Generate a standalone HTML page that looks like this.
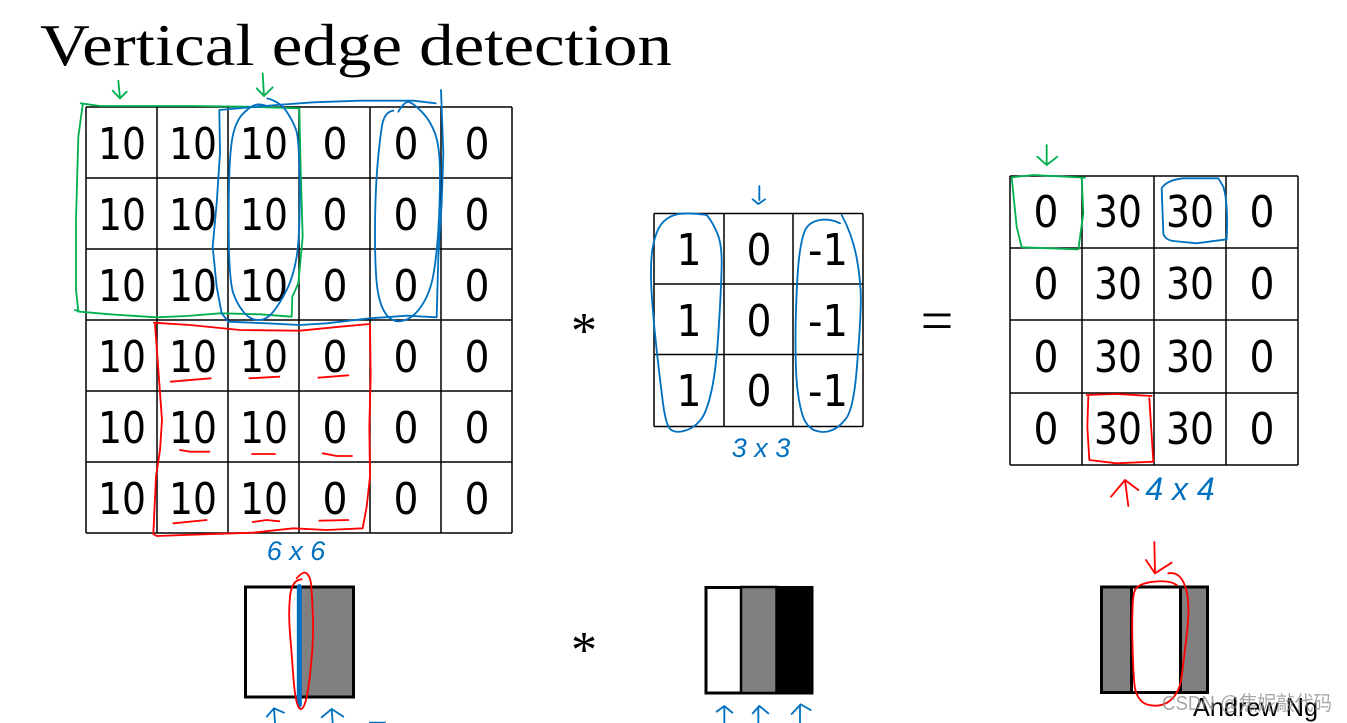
<!DOCTYPE html>
<html>
<head>
<meta charset="utf-8">
<style>
html,body{margin:0;padding:0;background:#fff;width:1347px;height:723px;overflow:hidden}
svg{display:block}
.n{font-family:"DejaVu Sans",sans-serif;font-size:44px;fill:#000;text-anchor:middle}
.z polyline,.z path{fill:none;stroke-width:5.5;stroke-linejoin:round;stroke-linecap:round}
.b polyline,.b path{stroke:#0070c0}.g polyline{stroke:#00b050}.r polyline,.r path{stroke:#f00}
.h{font-family:"Liberation Sans",sans-serif;font-style:italic;fill:#0070c0;font-size:27px;text-anchor:middle}
</style>
</head>
<body>
<svg width="1347" height="723" viewBox="0 0 1347 723" xmlns="http://www.w3.org/2000/svg">
<rect width="1347" height="723" fill="#fff"/>
<text x="40" y="65" font-family="'Liberation Serif',serif" font-size="59" textLength="632" lengthAdjust="spacingAndGlyphs">Vertical edge detection</text>

<!-- main grid -->
<path d="M86 107V533M157 107V533M228 107V533M299 107V533M370 107V533M441 107V533M512 107V533M86 107H512M86 178H512M86 249H512M86 320H512M86 391H512M86 462H512M86 533H512" stroke="#000" stroke-width="1.5" fill="none"/>
<g class="n">
<text class="n" x="122" y="159" textLength="48" lengthAdjust="spacingAndGlyphs">10</text><text class="n" x="193" y="159" textLength="48" lengthAdjust="spacingAndGlyphs">10</text><text class="n" x="264" y="159" textLength="48" lengthAdjust="spacingAndGlyphs">10</text><text class="n" x="335" y="159" textLength="25" lengthAdjust="spacingAndGlyphs">0</text><text class="n" x="406" y="159" textLength="25" lengthAdjust="spacingAndGlyphs">0</text><text class="n" x="477" y="159" textLength="25" lengthAdjust="spacingAndGlyphs">0</text>
<text class="n" x="122" y="230" textLength="48" lengthAdjust="spacingAndGlyphs">10</text><text class="n" x="193" y="230" textLength="48" lengthAdjust="spacingAndGlyphs">10</text><text class="n" x="264" y="230" textLength="48" lengthAdjust="spacingAndGlyphs">10</text><text class="n" x="335" y="230" textLength="25" lengthAdjust="spacingAndGlyphs">0</text><text class="n" x="406" y="230" textLength="25" lengthAdjust="spacingAndGlyphs">0</text><text class="n" x="477" y="230" textLength="25" lengthAdjust="spacingAndGlyphs">0</text>
<text class="n" x="122" y="301" textLength="48" lengthAdjust="spacingAndGlyphs">10</text><text class="n" x="193" y="301" textLength="48" lengthAdjust="spacingAndGlyphs">10</text><text class="n" x="264" y="301" textLength="48" lengthAdjust="spacingAndGlyphs">10</text><text class="n" x="335" y="301" textLength="25" lengthAdjust="spacingAndGlyphs">0</text><text class="n" x="406" y="301" textLength="25" lengthAdjust="spacingAndGlyphs">0</text><text class="n" x="477" y="301" textLength="25" lengthAdjust="spacingAndGlyphs">0</text>
<text class="n" x="122" y="372" textLength="48" lengthAdjust="spacingAndGlyphs">10</text><text class="n" x="193" y="372" textLength="48" lengthAdjust="spacingAndGlyphs">10</text><text class="n" x="264" y="372" textLength="48" lengthAdjust="spacingAndGlyphs">10</text><text class="n" x="335" y="372" textLength="25" lengthAdjust="spacingAndGlyphs">0</text><text class="n" x="406" y="372" textLength="25" lengthAdjust="spacingAndGlyphs">0</text><text class="n" x="477" y="372" textLength="25" lengthAdjust="spacingAndGlyphs">0</text>
<text class="n" x="122" y="443" textLength="48" lengthAdjust="spacingAndGlyphs">10</text><text class="n" x="193" y="443" textLength="48" lengthAdjust="spacingAndGlyphs">10</text><text class="n" x="264" y="443" textLength="48" lengthAdjust="spacingAndGlyphs">10</text><text class="n" x="335" y="443" textLength="25" lengthAdjust="spacingAndGlyphs">0</text><text class="n" x="406" y="443" textLength="25" lengthAdjust="spacingAndGlyphs">0</text><text class="n" x="477" y="443" textLength="25" lengthAdjust="spacingAndGlyphs">0</text>
<text class="n" x="122" y="514" textLength="48" lengthAdjust="spacingAndGlyphs">10</text><text class="n" x="193" y="514" textLength="48" lengthAdjust="spacingAndGlyphs">10</text><text class="n" x="264" y="514" textLength="48" lengthAdjust="spacingAndGlyphs">10</text><text class="n" x="335" y="514" textLength="25" lengthAdjust="spacingAndGlyphs">0</text><text class="n" x="406" y="514" textLength="25" lengthAdjust="spacingAndGlyphs">0</text><text class="n" x="477" y="514" textLength="25" lengthAdjust="spacingAndGlyphs">0</text>
</g>

<!-- kernel grid -->
<path d="M654 213.5V426.5M724 213.5V426.5M793 213.5V426.5M863 213.5V426.5M654 213.5H863M654 284H863M654 354.500H863M654 426.500H863" stroke="#000" stroke-width="1.5" fill="none"/>
<text class="n" x="689" y="265" textLength="25" lengthAdjust="spacingAndGlyphs">1</text><text class="n" x="759" y="265" textLength="25" lengthAdjust="spacingAndGlyphs">0</text><text class="n" x="828" y="265" textLength="40" lengthAdjust="spacingAndGlyphs">-1</text>
<text class="n" x="689" y="336" textLength="25" lengthAdjust="spacingAndGlyphs">1</text><text class="n" x="759" y="336" textLength="25" lengthAdjust="spacingAndGlyphs">0</text><text class="n" x="828" y="336" textLength="40" lengthAdjust="spacingAndGlyphs">-1</text>
<text class="n" x="689" y="406" textLength="25" lengthAdjust="spacingAndGlyphs">1</text><text class="n" x="759" y="406" textLength="25" lengthAdjust="spacingAndGlyphs">0</text><text class="n" x="828" y="406" textLength="40" lengthAdjust="spacingAndGlyphs">-1</text>

<!-- output grid -->
<path d="M1010 176V465M1082 176V465M1154 176V465M1226 176V465M1298 176V465M1010 176H1298M1010 248H1298M1010 320H1298M1010 393H1298M1010 465H1298" stroke="#000" stroke-width="1.5" fill="none"/>
<text class="n" x="1046" y="227" textLength="25" lengthAdjust="spacingAndGlyphs">0</text><text class="n" x="1118" y="227" textLength="48" lengthAdjust="spacingAndGlyphs">30</text><text class="n" x="1190" y="227" textLength="48" lengthAdjust="spacingAndGlyphs">30</text><text class="n" x="1262" y="227" textLength="25" lengthAdjust="spacingAndGlyphs">0</text>
<text class="n" x="1046" y="299" textLength="25" lengthAdjust="spacingAndGlyphs">0</text><text class="n" x="1118" y="299" textLength="48" lengthAdjust="spacingAndGlyphs">30</text><text class="n" x="1190" y="299" textLength="48" lengthAdjust="spacingAndGlyphs">30</text><text class="n" x="1262" y="299" textLength="25" lengthAdjust="spacingAndGlyphs">0</text>
<text class="n" x="1046" y="372" textLength="25" lengthAdjust="spacingAndGlyphs">0</text><text class="n" x="1118" y="372" textLength="48" lengthAdjust="spacingAndGlyphs">30</text><text class="n" x="1190" y="372" textLength="48" lengthAdjust="spacingAndGlyphs">30</text><text class="n" x="1262" y="372" textLength="25" lengthAdjust="spacingAndGlyphs">0</text>
<text class="n" x="1046" y="444" textLength="25" lengthAdjust="spacingAndGlyphs">0</text><text class="n" x="1118" y="444" textLength="48" lengthAdjust="spacingAndGlyphs">30</text><text class="n" x="1190" y="444" textLength="48" lengthAdjust="spacingAndGlyphs">30</text><text class="n" x="1262" y="444" textLength="25" lengthAdjust="spacingAndGlyphs">0</text>

<!-- operators -->
<text x="584" y="348" font-family="'Liberation Serif',serif" font-size="52" text-anchor="middle">*</text>
<text x="584" y="667" font-family="'Liberation Serif',serif" font-size="52" text-anchor="middle">*</text>
<text x="937" y="340" font-family="'Liberation Serif',serif" font-size="58" text-anchor="middle">=</text>

<!-- bottom images -->
<rect x="245.500" y="587" width="108" height="110" fill="#fff" stroke="#000" stroke-width="3"/>
<rect x="299" y="588.500" width="53" height="107" fill="#808080"/>
<rect x="706" y="587.500" width="106" height="105.500" fill="#fff" stroke="#000" stroke-width="3"/>
<rect x="741" y="587" width="35.500" height="106" fill="#808080" stroke="#000" stroke-width="2.500"/>
<rect x="776" y="586" width="37" height="108" fill="#000"/>
<rect x="1101.500" y="587" width="106" height="105.500" fill="#808080" stroke="#000" stroke-width="3"/>
<rect x="1131.500" y="587" width="49" height="105.500" fill="#fff" stroke="#000" stroke-width="3"/>

<!-- zoom 1 annotations -->
<g transform="translate(60 70) scale(.33333)" class="z">
 <g class="g">
  <polyline points="62,100 120,108 400,108 560,110 718,115 722,300 728,500 715,640 697,680 695,740 600,733 480,730 380,738 290,742 150,733 60,725 45,720"/>
  <polyline points="68,105 55,200 48,450 48,660 55,725"/>
  <polyline points="175,32 180,85"/><polyline points="158,62 180,85 200,65"/>
  <polyline points="608,10 612,78"/><polyline points="590,55 612,78 638,52"/>
 </g>
 <g class="b">
  <polyline points="1127,100 1060,92 900,92 760,97 650,105 478,120 480,250 470,400 458,530 470,650 485,730 505,755 620,760 720,765 800,760 930,745 1040,737 1130,742 1135,560 1145,400 1150,250 1143,60"/>
  <path d="M622,85 Q660,95 680,125 Q700,155 709,182 Q718,210 719,355 Q720,500 710,560 Q700,620 680,660 Q660,700 640,725 Q620,750 595,750 Q570,750 550,725 Q530,700 520,670 Q510,640 507,545 Q505,450 507,340 Q510,230 520,190 Q530,150 550,130 Q570,110 585,105 Q600,100 625,110"/>
  <path d="M1000,122 Q975,125 967,162 Q960,200 952,290 Q945,380 945,490 Q945,600 952,655 Q960,710 980,735 Q1000,760 1030,752 Q1060,745 1085,707 Q1110,670 1120,615 Q1130,560 1135,480 Q1140,400 1140,315 Q1140,230 1125,190 Q1110,150 1085,125 Q1060,100 1047,96 Q1035,92 1015,125"/>
 </g>
</g>

<!-- zoom 2 annotations -->
<g transform="translate(140 310) scale(.33333)" class="z">
 <g class="r">
  <polyline points="42,38 150,45 300,60 480,62 600,50 690,42 692,200 688,350 690,500 680,590 668,655 560,660 460,655 340,668 190,673 50,678 40,672 48,500 60,420 66,330 55,180 45,40"/>
  <polyline points="92,215 212,205"/><polyline points="328,205 418,200"/><polyline points="535,203 625,196"/>
  <polyline points="120,420 150,425 208,425"/><polyline points="336,432 405,432"/><polyline points="548,430 590,438 636,438"/>
  <polyline points="100,640 200,630"/><polyline points="338,636 380,630 418,634"/><polyline points="538,632 625,630"/>
 </g>
 <polyline points="478,830 478,1185" style="stroke:#0070c0;stroke-width:15"/>
 <g class="r"><path d="M485,808 Q455,810 450,860 Q445,910 450,970 Q455,1030 460,1100 Q465,1170 475,1190 Q485,1208 495,1180 Q505,1150 513,1065 Q522,980 518,905 Q515,830 512,815 Q510,800 500,790 Q490,782 470,805"/></g>
 <g class="b">
  <polyline points="405,1239 402,1195"/><polyline points="380,1220 402,1195 432,1208"/>
  <polyline points="578,1239 575,1197"/><polyline points="545,1222 575,1197 610,1220"/>
  <polyline points="690,1238 735,1238"/>
 </g>
</g>
<text class="h" x="296" y="560">6 x 6</text>

<!-- zoom 3 annotations -->
<g transform="translate(630 180) scale(.33333)" class="z">
 <g class="b">
  <path d="M230,105 Q170,97 140,103 Q110,110 92,135 Q75,160 67,210 Q60,260 65,340 Q70,420 80,510 Q90,600 99,670 Q108,740 124,750 Q140,760 165,752 Q190,745 210,722 Q230,700 245,630 Q260,560 267,430 Q275,300 275,245 Q275,190 262,160 Q250,130 230,105"/>
  <path d="M630,130 Q600,115 570,120 Q540,125 527,147 Q515,170 507,235 Q500,300 497,430 Q495,560 502,625 Q510,690 522,717 Q535,745 557,752 Q580,760 602,752 Q625,745 647,717 Q670,690 680,570 Q690,450 692,385 Q695,320 682,245 Q670,170 635,105"/>
  <polyline points="388,18 388,60"/><polyline points="368,58 385,72 405,58"/>
 </g>
</g>
<text class="h" x="761" y="457">3 x 3</text>

<!-- zoom 4 annotations -->
<g transform="translate(1000 140) scale(.33333)" class="z">
 <g class="g">
  <polyline points="35,112 100,105 255,113"/>
  <polyline points="245,113 250,220 235,328 65,322 50,260 35,112"/>
  <polyline points="140,15 140,75"/><polyline points="112,50 140,75 172,50"/>
 </g>
 <g class="b"><path d="M655,115 L550,115 Q500,120 485,145 L490,280 Q495,300 520,303 L590,310 L680,298 Q685,190 670,140 L655,115"/></g>
 <g class="r">
  <polyline points="260,765 350,762 455,768"/>
  <polyline points="448,775 460,965 350,970 268,960 262,860 265,770"/>
  <polyline points="375,1020 385,1098"/><polyline points="333,1070 375,1020 415,1050"/>
 </g>
</g>
<text class="h" x="1180" y="500" style="font-size:32px">4 x 4</text>

<!-- zoom 5 annotations -->
<g transform="translate(1080 530) scale(.33333)" class="z">
 <g class="r">
  <polyline points="223,36 225,130"/><polyline points="198,90 225,130 275,98"/>
  <path d="M265,130 Q290,125 305,147 Q320,170 324,210 Q328,250 319,325 Q310,400 305,440 Q300,480 280,502 Q260,525 230,527 Q200,528 185,514 Q170,500 165,475 Q160,450 157,325 Q155,200 165,180 Q175,160 222,155 Q270,150 290,165"/>
 </g>
</g>

<!-- zoom 6 annotations -->
<g transform="translate(680 570) scale(.33333)" class="z">
 <g class="b">
  <polyline points="133,458 133,410"/><polyline points="110,425 133,408 157,428"/>
  <polyline points="235,458 235,410"/><polyline points="218,430 238,408 265,430"/>
  <polyline points="360,458 360,405"/><polyline points="335,432 362,403 392,420"/>
 </g>
</g>

<text x="1193" y="716" font-family="'Liberation Sans',sans-serif" font-size="26" textLength="125" lengthAdjust="spacingAndGlyphs">Andrew Ng</text>
<text x="1162" y="710" font-family="'Liberation Sans','Noto Sans CJK SC',sans-serif" font-size="20" fill="#8a8a8a" fill-opacity=".75" textLength="170" lengthAdjust="spacingAndGlyphs">CSDN @焦妮敲代码</text>
</svg>
</body>
</html>
